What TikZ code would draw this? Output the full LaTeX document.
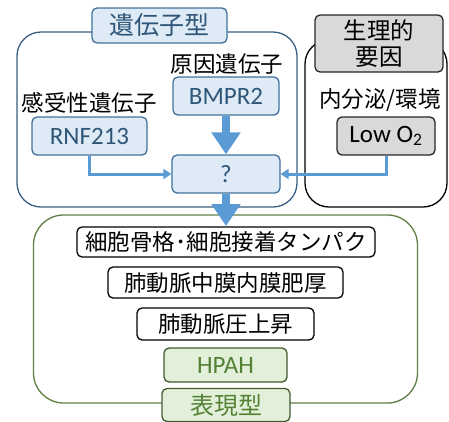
\documentclass[tikz,border=0pt]{standalone}
\usepackage{fontspec}
\setmainfont{Carlito}
\newfontfamily\jp{Noto Sans CJK JP}
\usetikzlibrary{arrows.meta}
\definecolor{bborder}{HTML}{41719C}
\definecolor{bfill}{HTML}{DEEBF7}
\definecolor{btext}{HTML}{2F5577}
\definecolor{barrow}{HTML}{5B9BD5}
\definecolor{gfill}{HTML}{D9D9D9}
\definecolor{grfill}{HTML}{E2F0D9}
\definecolor{grtext}{HTML}{548235}
\definecolor{grborder}{HTML}{5F7F43}
\tikzset{
  outerbox/.style={draw, line width=1.3pt, rounded corners=24pt, inner sep=0pt},
  bluebox/.style={draw=bborder, fill=bfill, line width=1.3pt, rounded corners=5pt, inner sep=0pt, text=btext, font=\fontsize{25}{28}\selectfont},
  graybox/.style={draw=black!85, fill=gfill, line width=1.3pt, rounded corners=5pt, inner sep=0pt, font=\fontsize{25}{28}\selectfont},
  whitebox/.style={draw=black, fill=white, line width=1.3pt, rounded corners=5pt, inner sep=0pt, font=\jp\fontsize{22.5}{25}\selectfont},
  greenbox/.style={draw=grborder!70!black, fill=grfill, line width=1.3pt, rounded corners=5pt, inner sep=0pt, text=grtext, font=\fontsize{25}{28}\selectfont},
  label/.style={font=\jp\fontsize{22.5}{25}\selectfont, inner sep=0pt},
  bigarrow/.style={draw=barrow, line width=8pt, -{Triangle[width=28pt,length=22pt]}},
  thinarrow/.style={draw=barrow, line width=3pt, -{Triangle[width=10pt,length=8pt]}},
}
\begin{document}
\begin{tikzpicture}[x=1pt,y=-1pt]
\useasboundingbox (0,0) rectangle (449,421);
% genotype outer
\node[outerbox, draw=bborder!85!black, minimum width=280pt, minimum height=175pt] (gen) at (157,119.5) {};
% physiological outer
\node[outerbox, draw=black, minimum width=142pt, minimum height=167pt] (phys) at (376,123.5) {};
% phenotype outer
\node[outerbox, draw=grborder, rounded corners=30pt, minimum width=384pt, minimum height=188pt] (phen) at (225.5,309) {};

\node[bluebox, minimum width=135pt, minimum height=35pt, font=\jp\fontsize{25}{28}\selectfont] (gentitle) at (159.5,25.5) {遺伝子型};
\node[graybox, minimum width=128pt, minimum height=57pt, align=center, font=\jp\fontsize{23.5}{26}\selectfont] (phystitle) at (379,43.5) {生理的\\要因};

\node[label] (lblcause) at (227,64) {原因遺伝子};
\node[label] (lblsus) at (89,103) {感受性遺伝子};
\node[label] (lblenv) at (380,100) {内分泌/環境};

\node[bluebox, minimum width=106pt, minimum height=38pt] (bmpr) at (226,96) {BMPR2};
\node[bluebox, minimum width=115pt, minimum height=38pt] (rnf) at (89.5,136) {RNF213};
\node[graybox, minimum width=98pt, minimum height=38pt] (low) at (386,136) {Low O\textsubscript{2}};
\node[bluebox, minimum width=108pt, minimum height=38pt] (q) at (226,174) {?};

\draw[bigarrow] (bmpr.south) -- (q.north);
\coordinate (phentop) at (226,226);
\draw[bigarrow] (q.south) -- (phentop);
\draw[thinarrow] (rnf.south) |- (q.west);
\draw[thinarrow] (low.south) |- (q.east);

\node[whitebox, minimum width=298pt, minimum height=30pt] (cell) at (226,242) {細胞骨格･細胞接着タンパク};
\node[whitebox, minimum width=235pt, minimum height=31pt] (thick) at (225.5,282.5) {肺動脈中膜内膜肥厚};
\node[whitebox, minimum width=177pt, minimum height=32pt] (press) at (225.5,324) {肺動脈圧上昇};
\node[greenbox, minimum width=123pt, minimum height=34pt] (hpah) at (225.5,365) {HPAH};
\node[greenbox, minimum width=128pt, minimum height=33pt, font=\jp\fontsize{24}{26}\selectfont] (phentitle) at (226,405) {表現型};
\end{tikzpicture}
\end{document}
